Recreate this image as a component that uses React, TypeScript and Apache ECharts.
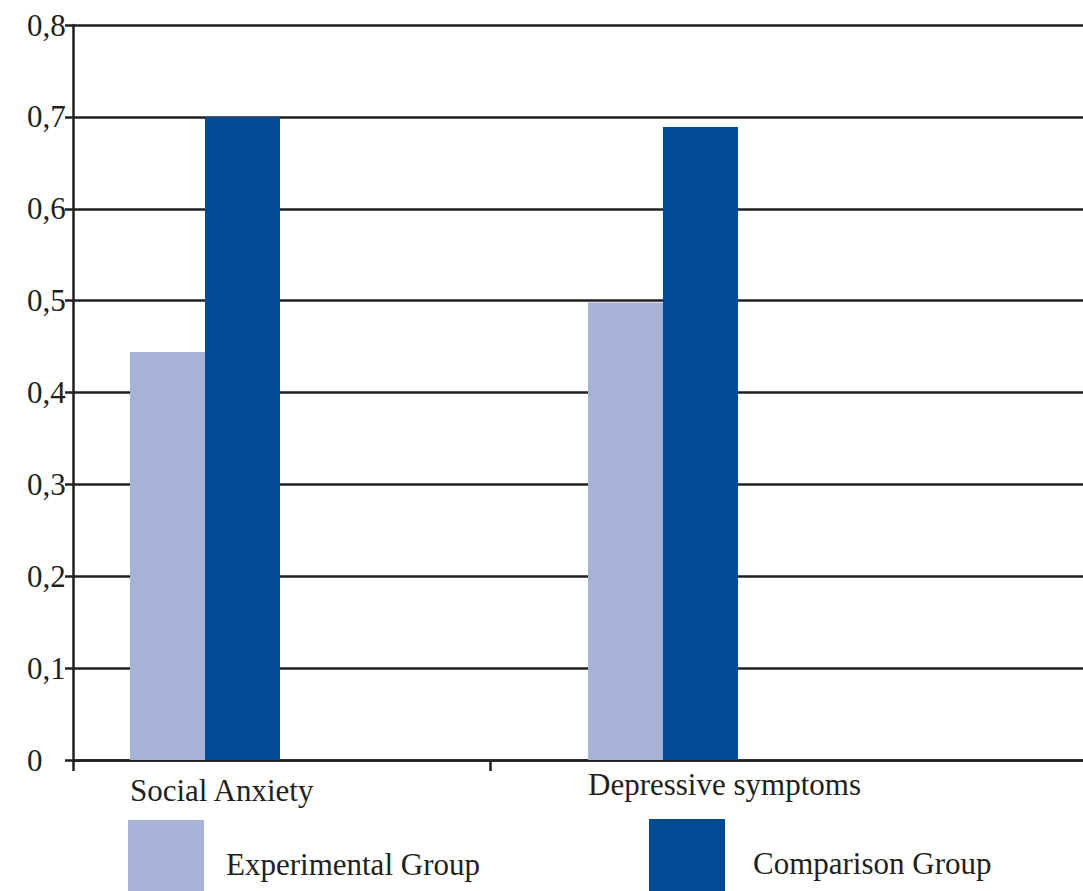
import React, { useEffect, useRef } from "react";
import * as echarts from "echarts";

const categories = ["Social Anxiety", "Depressive symptoms"];
const seriesNames = ["Experimental Group", "Comparison Group"];
const experimental = [0.444, 0.498];
const comparison = [0.7, 0.689];
const yMin = 0;
const yMax = 0.8;
const yStep = 0.1;

const FONT = '"Liberation Serif", "Times New Roman", serif';
const INK = "#231f20";
const LIGHT = "#a6b3d6";
const DARK = "#024a93";

export default function App() {
  const ref = useRef<HTMLDivElement>(null);
  useEffect(() => {
    if (!ref.current) return;
    const chart = echarts.init(ref.current, undefined, { renderer: "svg" });
    const top = 25;
    const bottom = 131;
    const plotW = 1010;
    const catStep = 458; // px between category centres
    const barMin = -(205 - 73) / catStep;
    const barMax = barMin + plotW / catStep;
    const labMin = -(130 - 73) / catStep;
    const labMax = labMin + plotW / catStep;
    const catIdx = categories.map((_, i) => i);
    const gridRect = { left: 73, right: 0, top, bottom, containLabel: false };
    const legendRich = {
      t: { fontFamily: FONT, fontSize: 31, color: INK, padding: [12, 0, 0, 0] },
    };
    const option: any = {
      animation: false,
      backgroundColor: "#ffffff",
      grid: [gridRect, gridRect, gridRect],
      xAxis: [
        {
          gridIndex: 0,
          type: "value",
          min: 0,
          max: plotW / 417,
          interval: 1,
          axisLine: { show: true, lineStyle: { color: INK, width: 2.5 } },
          axisTick: { show: true, length: 11, inside: false, customValues: [0, 1], lineStyle: { color: INK, width: 2.5 } },
          axisLabel: { show: false },
          splitLine: { show: false },
        },
        {
          gridIndex: 1,
          type: "value",
          min: barMin,
          max: barMax,
          axisLine: { show: false },
          axisTick: { show: false },
          axisLabel: { show: false },
          splitLine: { show: false },
        },
        {
          gridIndex: 2,
          type: "value",
          min: labMin,
          max: labMax,
          axisLine: { show: false },
          axisTick: { show: false },
          splitLine: { show: false },
          axisLabel: {
            show: true,
            customValues: catIdx,
            align: "left",
            margin: 6,
            fontFamily: FONT,
            fontSize: 31,
            color: INK,
            formatter: (v: number) => {
              const i = Math.round(v);
              const t = categories[i] ?? "";
              return i === 0 ? `{low|${t}}` : `{std|${t}}`;
            },
            rich: {
              low: { fontFamily: FONT, fontSize: 31, color: INK, lineHeight: 48 },
              std: { fontFamily: FONT, fontSize: 31, color: INK, lineHeight: 36 },
            },
          },
        },
      ],
      yAxis: [
        {
          gridIndex: 0,
          type: "value",
          min: yMin,
          max: yMax,
          interval: yStep,
          axisLine: { show: true, lineStyle: { color: INK, width: 2.5 } },
          axisTick: { show: true, length: 8, inside: false, lineStyle: { color: INK, width: 2.5 } },
          axisLabel: {
            show: true,
            align: "left",
            margin: 46,
            fontFamily: FONT,
            fontSize: 31,
            color: INK,
            formatter: (v: number) => (v === 0 ? "0" : v.toFixed(1).replace(".", ",")),
          },
          splitLine: { show: true, lineStyle: { color: INK, width: 2.5 } },
        },
        { gridIndex: 1, type: "value", min: yMin, max: yMax, interval: yStep, show: false },
        { gridIndex: 2, type: "value", min: yMin, max: yMax, interval: yStep, show: false },
      ],
      legend: [
        {
          data: [seriesNames[0]],
          left: 123,
          top: 815,
          itemWidth: 76,
          itemHeight: 76,
          icon: "rect",
          formatter: (n: string) => `{t|${n}}`,
          textStyle: { fontFamily: FONT, fontSize: 31, color: INK, padding: [0, 0, 0, 17], rich: legendRich },
        },
        {
          data: [seriesNames[1]],
          left: 644,
          top: 814,
          itemWidth: 76,
          itemHeight: 76,
          icon: "rect",
          formatter: (n: string) => `{t|${n}}`,
          textStyle: { fontFamily: FONT, fontSize: 31, color: INK, padding: [0, 0, 0, 23], rich: legendRich },
        },
      ],
      series: [
        {
          name: seriesNames[0],
          type: "bar",
          xAxisIndex: 1,
          yAxisIndex: 1,
          data: catIdx.map((i) => [i, experimental[i]]),
          barWidth: 75,
          barGap: "0%",
          itemStyle: { color: LIGHT },
        },
        {
          name: seriesNames[1],
          type: "bar",
          xAxisIndex: 1,
          yAxisIndex: 1,
          data: catIdx.map((i) => [i, comparison[i]]),
          barWidth: 75,
          barGap: "0%",
          itemStyle: { color: DARK },
        },
      ],
    };
    chart.setOption(option);
    return () => chart.dispose();
  }, []);
  return (
    <div
      ref={ref}
      style={{ position: "absolute", left: 0, top: 0, width: 1083, height: 891 }}
    />
  );
}
